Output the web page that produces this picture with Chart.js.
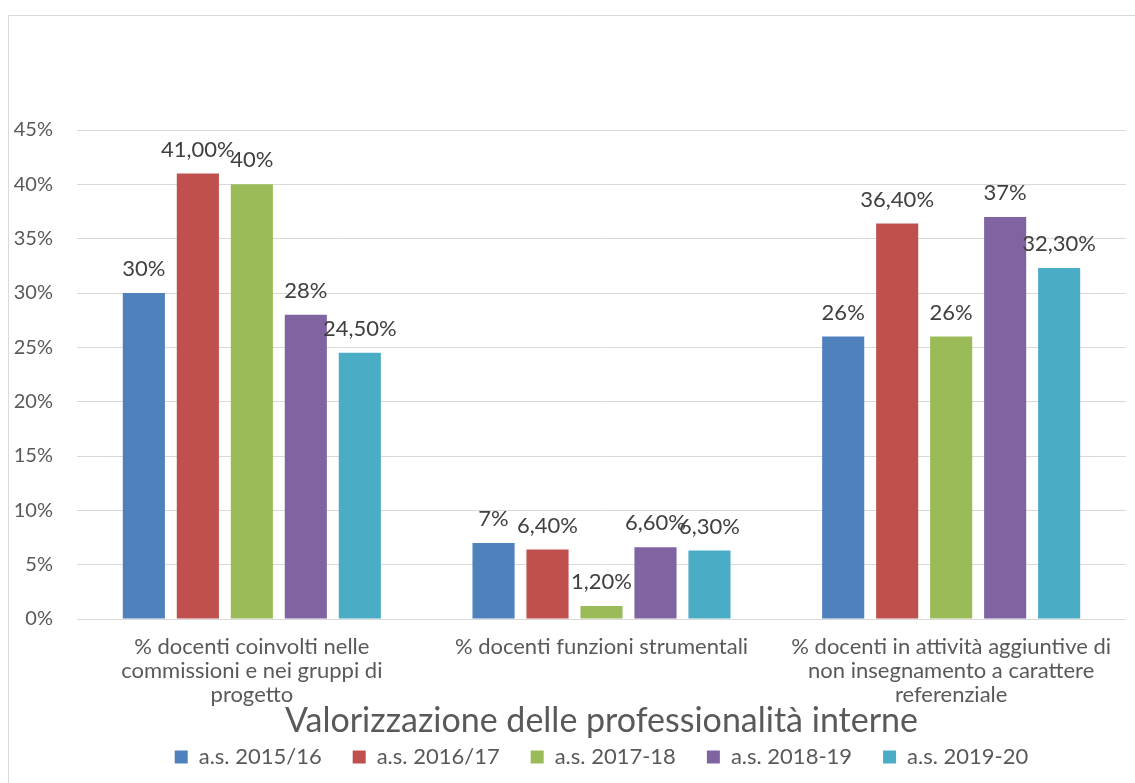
<!DOCTYPE html>
<html>
<head>
<meta charset="utf-8">
<script src="https://cdn.jsdelivr.net/npm/chart.js@4/dist/chart.umd.min.js"></script>
<style>
  body { margin: 0; background: #fff; }
  canvas { display: block; }
</style>
</head>
<body>
<canvas id="chart" width="1135" height="783"></canvas>
<script>
// categories (x axis), one array of lines per label
const categories = [
  ['% docenti coinvolti nelle', 'commissioni e nei gruppi di', 'progetto'],
  ['% docenti funzioni strumentali'],
  ['% docenti in attività aggiuntive di', 'non insegnamento a carattere', 'referenziale']
];

const seriesNames = ['a.s. 2015/16', 'a.s. 2016/17', 'a.s. 2017-18', 'a.s. 2018-19', 'a.s. 2019-20'];
const seriesColors = ['#4F81BD', '#C0504D', '#9BBB59', '#8064A2', '#4BACC6'];

// values in percent
const as201516 = [30, 7, 26];
const as201617 = [41, 6.4, 36.4];
const as201718 = [40, 1.2, 26];
const as201819 = [28, 6.6, 37];
const as201920 = [24.5, 6.3, 32.3];

// data labels as printed in the original
const labels201516 = ['30%', '7%', '26%'];
const labels201617 = ['41,00%', '6,40%', '36,40%'];
const labels201718 = ['40%', '1,20%', '26%'];
const labels201819 = ['28%', '6,60%', '37%'];
const labels201920 = ['24,50%', '6,30%', '32,30%'];

const seriesValues = [as201516, as201617, as201718, as201819, as201920];
const seriesLabels = [labels201516, labels201617, labels201718, labels201819, labels201920];

const yTicks = [0, 5, 10, 15, 20, 25, 30, 35, 40, 45];

const FONT = 'Lato, Carlito, Calibri, sans-serif';
const GREY = '#595959';

// thin frame round the chart (left and top edges visible)
const framePlugin = {
  id: 'frame',
  beforeDraw(chart) {
    const ctx = chart.ctx;
    ctx.save();
    ctx.strokeStyle = '#d9d9d9';
    ctx.lineWidth = 1;
    ctx.beginPath();
    ctx.moveTo(8.5, chart.height);
    ctx.lineTo(8.5, 15.5);
    ctx.lineTo(chart.width, 15.5);
    ctx.stroke();
    ctx.restore();
  }
};

// value labels above each bar
const valueLabels = {
  id: 'valueLabels',
  afterDatasetsDraw(chart) {
    const ctx = chart.ctx;
    ctx.save();
    ctx.font = '22px ' + FONT;
    ctx.fillStyle = '#404040';
    ctx.textAlign = 'center';
    ctx.textBaseline = 'middle';
    chart.data.datasets.forEach((ds, i) => {
      const meta = chart.getDatasetMeta(i);
      meta.data.forEach((bar, j) => {
        ctx.fillText(seriesLabels[i][j], bar.x, bar.y - 24);
      });
    });
    ctx.restore();
  }
};

new Chart(document.getElementById('chart'), {
  type: 'bar',
  data: {
    labels: categories,
    datasets: seriesNames.map((name, i) => ({
      label: name,
      data: seriesValues[i],
      backgroundColor: seriesColors[i],
      borderWidth: 0,
      categoryPercentage: 0.772,
      barPercentage: 0.78
    }))
  },
  options: {
    responsive: false,
    animation: false,
    devicePixelRatio: 1,
    layout: { padding: { left: 8, right: 9, top: 130, bottom: 5 } },
    scales: {
      x: {
        grid: { display: false, drawTicks: false },
        border: { display: false },
        ticks: {
          color: GREY,
          font: { family: FONT, size: 22, lineHeight: 24 / 22 },
          padding: 16,
          maxRotation: 0,
          autoSkip: false
        },
        afterFit(scale) { scale.height = 88; }
      },
      y: {
        min: 0,
        max: 45,
        afterBuildTicks(scale) { scale.ticks = yTicks.map(v => ({ value: v })); },
        grid: { color: '#d9d9d9', lineWidth: 1, drawTicks: false },
        border: { display: false },
        ticks: {
          color: GREY,
          font: { family: FONT, size: 20 },
          padding: 24,
          callback: v => v + '%'
        },
        afterFit(scale) { scale.width = 69; }
      }
    },
    plugins: {
      title: {
        display: true,
        text: 'Valorizzazione delle professionalità interne',
        position: 'bottom',
        fullSize: false,
        weight: 500,
        color: GREY,
        font: { family: FONT, size: 34, weight: 'normal', lineHeight: 1 },
        padding: { top: -3, bottom: -23 }
      },
      legend: {
        position: 'bottom',
        fullSize: false,
        labels: {
          color: GREY,
          font: { family: FONT, size: 22 },
          boxWidth: 13,
          boxHeight: 13,
          padding: 31
        }
      },
      tooltip: { enabled: false }
    }
  },
  plugins: [framePlugin, valueLabels]
});
</script>
</body>
</html>
